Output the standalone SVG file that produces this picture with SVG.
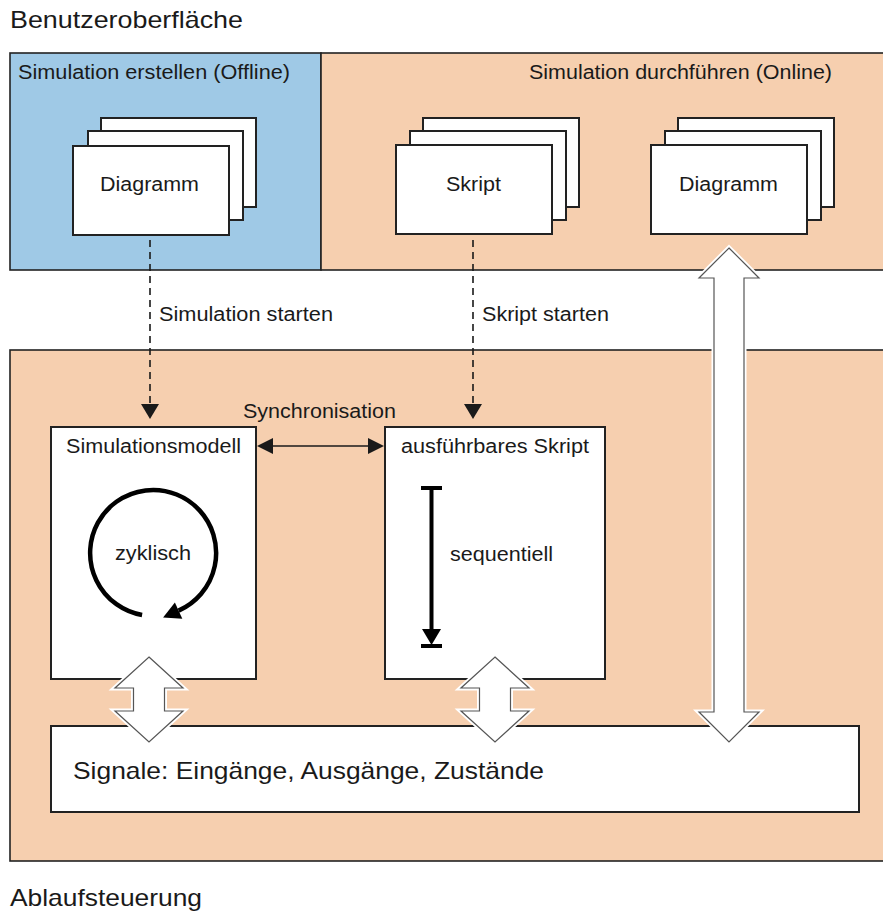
<svg xmlns="http://www.w3.org/2000/svg" width="883" height="912" viewBox="0 0 883 912">
<style>
text{font-family:"Liberation Sans",Arial,sans-serif;fill:#1a1a1a}
.t24{font-size:24px}
.t20{font-size:20px}
.panel{stroke:#222;stroke-width:1.6}
.blue{fill:#9fc9e6}
.orange{fill:#f6cfaf}
.card{fill:#fff;stroke:#222;stroke-width:2}
.box{fill:#fff;stroke:#222;stroke-width:2}
.dash{fill:none;stroke:#1a1a1a;stroke-width:1.6;stroke-dasharray:7 5}
.head{fill:#1a1a1a}
.halo{fill:none;stroke:#fff;stroke-width:5;stroke-linejoin:miter}
.blk{fill:#fff;stroke:#555;stroke-width:1.2;stroke-linejoin:miter}
</style>
<rect width="883" height="912" fill="#fff"/>
<text id="title-ui" class="t24" x="10" y="28" textLength="233" lengthAdjust="spacingAndGlyphs">Benutzeroberfläche</text>
<text id="title-ablauf" class="t24" x="10" y="906" textLength="192" lengthAdjust="spacingAndGlyphs">Ablaufsteuerung</text>

<g id="panel-offline">
<rect class="panel blue" x="10" y="53" width="311" height="217"/>
<text class="t20" x="18" y="79" textLength="272" lengthAdjust="spacingAndGlyphs">Simulation erstellen (Offline)</text>
</g>
<g id="panel-online">
<rect class="panel orange" x="321" y="53" width="570" height="217"/>
<text class="t20" x="529" y="79" textLength="303" lengthAdjust="spacingAndGlyphs">Simulation durchführen (Online)</text>
</g>
<g id="panel-ablauf">
<rect class="panel orange" x="10" y="350" width="881" height="511"/>
</g>

<g id="cards-diagramm-offline">
<rect class="card" x="101" y="118" width="155" height="89"/>
<rect class="card" x="88" y="131" width="155" height="89"/>
<rect class="card" x="73" y="146" width="156" height="89"/>
<text class="t20" x="100" y="191" textLength="99" lengthAdjust="spacingAndGlyphs">Diagramm</text>
</g>
<g id="cards-skript">
<rect class="card" x="423" y="118" width="156" height="89"/>
<rect class="card" x="410" y="131" width="156" height="89"/>
<rect class="card" x="396" y="145" width="156" height="89"/>
<text class="t20" x="446" y="191" textLength="55" lengthAdjust="spacingAndGlyphs">Skript</text>
</g>
<g id="cards-diagramm-online">
<rect class="card" x="678" y="118" width="156" height="89"/>
<rect class="card" x="665" y="131" width="156" height="89"/>
<rect class="card" x="651" y="145" width="156" height="89"/>
<text class="t20" x="679" y="191" textLength="99" lengthAdjust="spacingAndGlyphs">Diagramm</text>
</g>

<g id="simulationsmodell">
<rect class="box" x="51" y="427" width="205" height="252"/>
<text class="t20" x="66" y="453" textLength="175" lengthAdjust="spacingAndGlyphs">Simulationsmodell</text>
<path d="M142.1,615 A63,63 0 1 1 178.6,610.6" fill="none" stroke="#000" stroke-width="4.5"/>
<polygon points="163.1,617.5 182.3,618.8 174.9,602.4" fill="#000"/>
<text class="t20" x="115" y="560" textLength="76" lengthAdjust="spacingAndGlyphs">zyklisch</text>
</g>
<g id="ausfuehrbares-skript">
<rect class="box" x="385" y="427" width="220" height="252"/>
<text class="t20" x="401" y="453" textLength="188" lengthAdjust="spacingAndGlyphs">ausführbares Skript</text>
<line x1="431.5" y1="488" x2="431.5" y2="632" stroke="#000" stroke-width="4"/>
<rect x="421" y="486" width="21" height="4" fill="#000"/>
<rect x="421" y="644" width="21" height="4" fill="#000"/>
<polygon points="422,629 441,629 431.5,645" fill="#000"/>
<text class="t20" x="450" y="561" textLength="103" lengthAdjust="spacingAndGlyphs">sequentiell</text>
</g>
<g id="signale">
<rect class="box" x="51" y="726" width="808" height="86"/>
<text class="t24" x="73" y="779" textLength="471" lengthAdjust="spacingAndGlyphs">Signale: Eingänge, Ausgänge, Zustände</text>
</g>

<g id="connectors">
<line class="dash" x1="150" y1="240" x2="150" y2="405"/>
<polygon class="head" points="141,404 159,404 150,419"/>
<text class="t20" x="159" y="321" textLength="174" lengthAdjust="spacingAndGlyphs">Simulation starten</text>
<line class="dash" x1="473" y1="240" x2="473" y2="405"/>
<polygon class="head" points="464,404 482,404 473,419"/>
<text class="t20" x="482" y="321" textLength="127" lengthAdjust="spacingAndGlyphs">Skript starten</text>

<line x1="270" y1="446" x2="371" y2="446" stroke="#1a1a1a" stroke-width="1.6"/>
<polygon class="head" points="257,446 273,438 273,454"/>
<polygon class="head" points="384,446 368,438 368,454"/>
<text class="t20" x="243" y="418" textLength="153" lengthAdjust="spacingAndGlyphs">Synchronisation</text>

<path class="halo" d="M149,657 L183,688 L164.5,688 L164.5,711 L183,711 L149,742 L115,711 L133.5,711 L133.5,688 L115,688 Z"/>
<path class="blk" d="M149,657 L183,688 L164.5,688 L164.5,711 L183,711 L149,742 L115,711 L133.5,711 L133.5,688 L115,688 Z"/>
<path class="halo" d="M495,657 L529,688 L510.5,688 L510.5,711 L529,711 L495,742 L461,711 L479.5,711 L479.5,688 L461,688 Z"/>
<path class="blk" d="M495,657 L529,688 L510.5,688 L510.5,711 L529,711 L495,742 L461,711 L479.5,711 L479.5,688 L461,688 Z"/>
<path class="halo" d="M729,248 L759,278 L744,278 L744,712 L759,712 L729,742 L699,712 L714,712 L714,278 L699,278 Z"/>
<path class="blk" d="M729,248 L759,278 L744,278 L744,712 L759,712 L729,742 L699,712 L714,712 L714,278 L699,278 Z"/>
</g>
</svg>
